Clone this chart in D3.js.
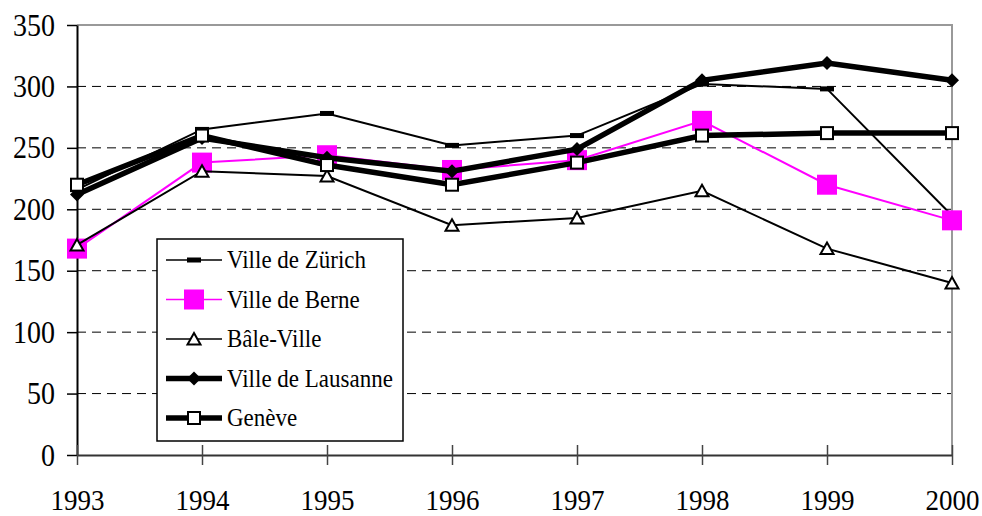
<!DOCTYPE html>
<html>
<head>
<meta charset="utf-8">
<script src="https://cdn.jsdelivr.net/npm/d3@7"></script>
</head>
<body style="margin:0; background:#fff">
<svg id="chart" width="982" height="516" style="display:block"></svg>
<script>
// years on the x axis
const years = [1993, 1994, 1995, 1996, 1997, 1998, 1999, 2000];
const yTicks = [0, 50, 100, 150, 200, 250, 300, 350];

// series values
const zurich   = [216, 265, 278, 252, 260, 302, 298, 195];
const berne    = [168, 238, 244, 232, 240, 272, 220, 191];
const bale     = [171, 231, 227, 187, 193, 215, 168, 140];
const lausanne = [212, 258, 242, 231, 249, 305, 319, 305];
const geneve   = [220, 260, 236, 220, 238, 260, 262, 262];

const seriesNames = ['Ville de Zürich', 'Ville de Berne', 'Bâle-Ville', 'Ville de Lausanne', 'Genève'];
const seriesData = [zurich, berne, bale, lausanne, geneve];

// style per series: line colour/width and marker
const styles = [
  { color: '#000', width: 2, marker: 'dash' },
  { color: '#ff00ff', width: 2, marker: 'bigsquare' },
  { color: '#000', width: 2, marker: 'triangle' },
  { color: '#000', width: 5.5, marker: 'diamond' },
  { color: '#000', width: 5.5, marker: 'square' }
];

// the original text is a little taller than it is wide
const stretch = 1.12;

const svg = d3.select('#chart');
const plotL = 77, plotR = 952, plotT = 25, plotB = 455;

const x = d3.scaleLinear().domain([1993, 2000]).range([plotL, plotR]);
const y = d3.scaleLinear().domain([0, 350]).range([plotB, plotT]);

// dashed gridlines
svg.append('g')
  .selectAll('line')
  .data(yTicks.filter(d => d > 0 && d < 350))
  .join('line')
  .attr('x1', plotL).attr('x2', plotR)
  .attr('y1', d => y(d)).attr('y2', d => y(d))
  .attr('stroke', '#000')
  .attr('stroke-width', 1)
  .attr('stroke-dasharray', '9,6');

// top and right frame in grey
svg.append('path')
  .attr('d', `M${plotL},${plotT}H${plotR}V${plotB}`)
  .attr('fill', 'none')
  .attr('stroke', '#999')
  .attr('stroke-width', 2);

// y axis
const yAxis = svg.append('g')
  .attr('transform', `translate(${plotL},0)`)
  .call(d3.axisLeft(y).tickValues(yTicks).tickSizeInner(10).tickSizeOuter(0).tickPadding(12));
yAxis.select('.domain').attr('stroke', '#000').attr('stroke-width', 2);
yAxis.selectAll('.tick line').attr('stroke', '#000').attr('stroke-width', 1.5);
yAxis.selectAll('.tick text')
  .attr('dy', null)
  .attr('y', 9)
  .attr('transform', `scale(1,${stretch})`)
  .style('font-family', '"Liberation Serif"')
  .style('font-size', '28px')
  .attr('fill', '#000');

// x axis, ticks cross the axis line
const xAxis = svg.append('g')
  .attr('transform', `translate(0,${plotB})`)
  .call(d3.axisBottom(x).tickValues(years).tickFormat(d3.format('d')).tickSizeInner(10).tickSizeOuter(0));
xAxis.select('.domain').attr('stroke', '#333').attr('stroke-width', 2);
xAxis.selectAll('.tick line').attr('y1', -10).attr('stroke', '#444').attr('stroke-width', 1.5);
xAxis.selectAll('.tick text')
  .attr('y', 55 / stretch).attr('dy', null)
  .attr('transform', `scale(1,${stretch})`)
  .style('font-family', '"Liberation Serif"')
  .style('font-size', '27px')
  .attr('fill', '#000');

// marker drawing helper
function drawMarker(g, type, color) {
  if (type === 'dash') {
    g.append('rect').attr('x', -7).attr('y', -2.5).attr('width', 14).attr('height', 5).attr('fill', '#000');
  } else if (type === 'bigsquare') {
    g.append('rect').attr('x', -10).attr('y', -10).attr('width', 20).attr('height', 20).attr('fill', color);
  } else if (type === 'triangle') {
    g.append('path').attr('d', 'M0,-6L6.5,5.5L-6.5,5.5Z')
      .attr('fill', '#fff').attr('stroke', '#000').attr('stroke-width', 2);
  } else if (type === 'diamond') {
    g.append('path').attr('d', 'M0,-7L7,0L0,7L-7,0Z').attr('fill', '#000');
  } else if (type === 'square') {
    g.append('rect').attr('x', -6).attr('y', -6).attr('width', 12).attr('height', 12)
      .attr('fill', '#fff').attr('stroke', '#000').attr('stroke-width', 2);
  }
}

const line = d3.line().x((d, i) => x(years[i])).y(d => y(d));

// series drawn in order, each line then its markers
seriesData.forEach((vals, s) => {
  const st = styles[s];
  const g = svg.append('g').attr('class', 'series');
  g.append('path')
    .datum(vals)
    .attr('d', line)
    .attr('fill', 'none')
    .attr('stroke', st.color)
    .attr('stroke-width', st.width)
    .attr('stroke-linejoin', 'miter');
  vals.forEach((v, i) => {
    const m = g.append('g').attr('transform', `translate(${x(years[i])},${y(v)})`);
    drawMarker(m, st.marker, st.color);
  });
});

// legend
const legend = svg.append('g').attr('transform', 'translate(157,239)');
legend.append('rect')
  .attr('width', 246).attr('height', 202)
  .attr('fill', '#fff').attr('stroke', '#000').attr('stroke-width', 1.5);

seriesNames.forEach((name, i) => {
  const st = styles[i];
  const cy = 21 + i * 39.5;
  const row = legend.append('g').attr('transform', `translate(0,${cy})`);
  row.append('line')
    .attr('x1', 9).attr('x2', 65)
    .attr('stroke', st.color)
    .attr('stroke-width', st.width === 2 ? 1.5 : 5.5);
  const m = row.append('g').attr('transform', 'translate(37,0)');
  drawMarker(m, st.marker, st.color);
  row.append('text')
    .attr('transform', `translate(70,8) scale(1,${stretch})`)
    .style('font-family', '"Liberation Serif"')
    .style('font-size', '23px')
    .attr('fill', '#000')
    .text(name);
});
</script>
</body>
</html>
